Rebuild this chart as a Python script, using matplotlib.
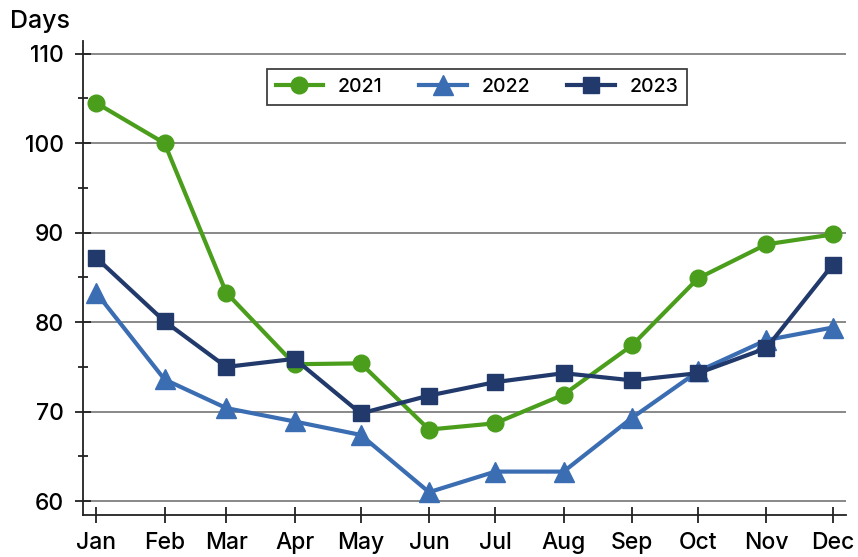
import matplotlib
matplotlib.use("Agg")
import matplotlib.pyplot as plt
from matplotlib.ticker import MultipleLocator
import pandas as pd

months = ["Jan", "Feb", "Mar", "Apr", "May", "Jun", "Jul", "Aug", "Sep", "Oct", "Nov", "Dec"]
y2021 = [104.5, 100.0, 83.3, 75.3, 75.4, 68.0, 68.7, 71.9, 77.4, 84.9, 88.7, 89.8]
y2022 = [83.3, 73.6, 70.4, 68.9, 67.4, 61.0, 63.3, 63.3, 69.3, 74.5, 78.0, 79.4]
y2023 = [87.2, 80.1, 75.0, 75.9, 69.8, 71.8, 73.3, 74.3, 73.5, 74.3, 77.1, 86.4]
series_names = ["2021", "2022", "2023"]

dates = pd.to_datetime([f"2021-{m}-01" for m in months], format="%Y-%b-%d")

plt.rcParams['font.family'] = ['Inter', 'DejaVu Sans']
plt.rcParams['font.weight'] = 500

fig = plt.figure(figsize=(8.58, 5.57), dpi=100)
ax = fig.add_axes([0.0967, 0.0754, 0.889, 0.8506])

c_green = "#4a9e1c"
c_blue = "#3b6db3"
c_navy = "#213a6b"

ax.plot(dates, y2021, color=c_green, lw=3, marker="o", ms=12, label=series_names[0], zorder=3)
ax.plot(dates, y2022, color=c_blue, lw=3, marker="^", ms=14, label=series_names[1], zorder=3)
ax.plot(dates, y2023, color=c_navy, lw=3, marker="s", ms=12, label=series_names[2], zorder=4)

ax.set_xlim(pd.Timestamp("2020-12-26"), pd.Timestamp("2021-12-07"))
ax.set_ylim(58.45, 111.4)
ax.yaxis.set_major_locator(MultipleLocator(10))
ax.yaxis.set_minor_locator(MultipleLocator(5))
ax.set_yticks([60, 70, 80, 90, 100, 110])
ax.set_xticks(dates)
ax.set_xticklabels(months)

ax.grid(axis="y", which="major", color="#7f7f7f", lw=1.3, zorder=1)
for s in ["top", "right"]:
    ax.spines[s].set_visible(False)
for s in ["left", "bottom"]:
    ax.spines[s].set_color("#222222")
    ax.spines[s].set_linewidth(1.3)

ax.tick_params(axis="y", which="major", direction="inout", length=12, width=1.3, color="#222222", labelsize=16.5, pad=8)
ax.tick_params(axis="y", which="minor", direction="inout", length=7, width=1.3, color="#222222")
ax.tick_params(axis="x", which="major", direction="inout", length=12, width=1.3, color="#222222", labelsize=16.5, pad=6)
ax.tick_params(axis="x", which="minor", length=0)

leg = ax.legend(loc="upper left", bbox_to_anchor=(0.241, 0.941), borderaxespad=0, ncol=3, fontsize=14,
                frameon=True, fancybox=False, edgecolor="#111111", handlelength=2.45,
                columnspacing=1.9, borderpad=0.45, handletextpad=0.75)
leg.get_frame().set_linewidth(1.3)

fig.text(10/858, 1 - 28/557, "Days", fontsize=18, ha="left", va="baseline")

fig.savefig("out.png", dpi=100)
